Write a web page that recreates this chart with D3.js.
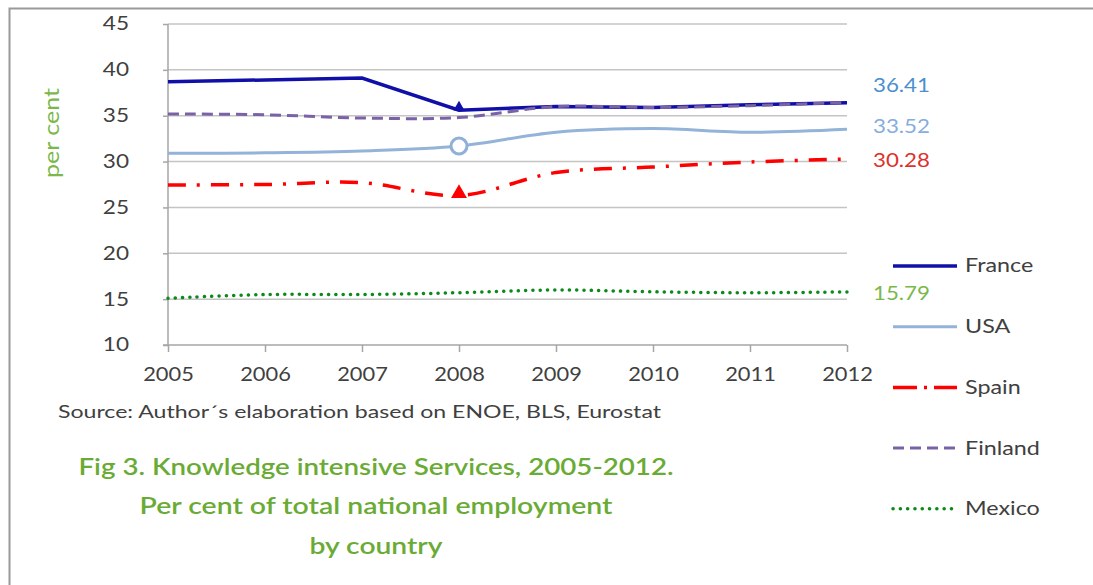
<!DOCTYPE html>
<html><head><meta charset="utf-8">
<script src="https://cdn.jsdelivr.net/npm/d3@7"></script>
<style>body{margin:0;background:#fff;} svg{display:block;font-family:Lato,"Open Sans",sans-serif;}</style>
</head><body>
<svg id="c" width="1093" height="585"></svg>
<script>
const years = [2005, 2006, 2007, 2008, 2009, 2010, 2011, 2012];
const france = [38.7, 38.9, 39.1, 35.6, 36.0, 35.9, 36.2, 36.41];
const usa = [30.9, 30.95, 31.15, 31.7, 33.2, 33.6, 33.2, 33.52];
const spain = [27.45, 27.5, 27.7, 26.3, 28.8, 29.4, 29.95, 30.28];
const finland = [35.2, 35.1, 34.75, 34.8, 36.0, 35.9, 36.1, 36.45];
const mexico = [15.1, 15.5, 15.5, 15.7, 16.0, 15.8, 15.7, 15.79];
const yTicks = [10, 15, 20, 25, 30, 35, 40, 45];
const seriesNames = ["France", "USA", "Spain", "Finland", "Mexico"];
const endLabels = ["36.41", "33.52", "30.28", "15.79"];

const svg = d3.select("#c");
function stretch(sel, k) {
  sel.each(function(){
    const L = this.getComputedTextLength();
    d3.select(this).attr("textLength", L*k).attr("lengthAdjust","spacingAndGlyphs");
  });
}
function fitTo(sel, w) {
  sel.attr("textLength", w).attr("lengthAdjust","spacingAndGlyphs");
}

// frame
svg.append("path").attr("d","M9.5,585 V8.5 H1093").attr("fill","none").attr("stroke","#9a9a9a").attr("stroke-width",2);

const x = d3.scalePoint().domain(years).range([168, 847]);
const y = d3.scaleLinear().domain([10, 45]).range([345, 24]);

// gridlines
svg.append("g").selectAll("line").data(yTicks.filter(d=>d>10)).join("line")
  .attr("x1",168).attr("x2",847).attr("y1",d=>y(d)).attr("y2",d=>y(d))
  .attr("stroke","#c4c4c4").attr("stroke-width",1.5);

// y axis
const ya = svg.append("g").attr("transform","translate(168,0)")
  .call(d3.axisLeft(y).tickValues(yTicks).tickSize(5).tickPadding(34));
ya.selectAll("path,line").attr("stroke","#a6a6a6").attr("stroke-width",1.5);
ya.select(".domain").attr("d","M0,"+y(45)+"V"+y(10));
ya.selectAll("text").attr("font-size",18.5).attr("fill","#404040").attr("font-family","Lato,'Open Sans',sans-serif");
stretch(ya.selectAll("text"), 1.22);

// x axis
const xa = svg.append("g").attr("transform","translate(0,345)")
  .call(d3.axisBottom(x).tickSize(7).tickPadding(16).tickFormat(d3.format("d")));
xa.selectAll("path,line").attr("stroke","#a6a6a6").attr("stroke-width",1.5);
xa.select(".domain").attr("d","M163,0H847");
xa.selectAll("text").attr("font-size",18.5).attr("fill","#404040").attr("font-family","Lato,'Open Sans',sans-serif");
stretch(xa.selectAll("text"), 1.18);

const styles = {
  France: {c:"#1010a8", w:3.5, dash:null, curve:d3.curveLinear, cap:"butt"},
  USA: {c:"#93b3d9", w:3, dash:null, curve:d3.curveCatmullRom, cap:"butt"},
  Spain: {c:"#ff0000", w:3.5, dash:"18,11,3,11", curve:d3.curveCatmullRom, cap:"butt"},
  Finland: {c:"#7a62a6", w:3, dash:"11,6", curve:d3.curveCatmullRom, cap:"butt"},
  Mexico: {c:"#0a8a1a", w:3.5, dash:"0.1,7.2", curve:d3.curveCatmullRom, cap:"round"}
};
const dataMap = {France:france, USA:usa, Spain:spain, Finland:finland, Mexico:mexico};
const drawOrder = ["Mexico","Spain","USA","France","Finland"];
drawOrder.forEach(n=>{
  const s = styles[n];
  const line = d3.line().x((d,i)=>x(years[i])).y(d=>y(d)).curve(s.curve);
  svg.append("path").datum(dataMap[n]).attr("d",line).attr("fill","none")
    .attr("stroke",s.c).attr("stroke-width",s.w).attr("stroke-dasharray",s.dash).attr("stroke-linecap",s.cap);
});

// markers at 2008
const i08 = years.indexOf(2008);
svg.append("circle").attr("cx",x(2008)).attr("cy",y(usa[i08])).attr("r",8)
  .attr("fill","#fff").attr("stroke","#8fb0d8").attr("stroke-width",3);
svg.append("path").attr("transform",`translate(${x(2008)},${y(spain[i08])-2})`)
  .attr("d",d3.symbol(d3.symbolTriangle,110)()).attr("fill","#ff0000");
svg.append("path").attr("transform",`translate(${x(2008)},${y(france[i08])-3})`)
  .attr("d",d3.symbol(d3.symbolTriangle,55)()).attr("fill","#1010a8");

// end labels
const endVals = [france[7], usa[7], spain[7], mexico[7]];
const endCols = ["#4a8fd0","#86ade0","#e0302b","#7bb84a"];
const endDy = [-17, -3, 1, 1];
endLabels.forEach((t,i)=>{
  const tx = svg.append("text").attr("x",873).attr("y",y(endVals[i])+endDy[i]).attr("dy","0.35em")
    .attr("font-size",19).attr("fill",endCols[i]).text(t);
  fitTo(tx, 57);
});

// y axis title
const yt = svg.append("text").attr("transform","translate(52,133) rotate(-90)").attr("text-anchor","middle")
  .attr("dy","0.35em").attr("font-size",21).attr("fill","#7bb84a").text("per cent");
fitTo(yt, 90);

// legend
const lg = svg.append("g");
seriesNames.forEach((n,i)=>{
  const s = styles[n];
  const yy = 266 + i*60.7;
  lg.append("line").attr("x1",893).attr("x2",957).attr("y1",yy).attr("y2",yy)
    .attr("stroke",s.c).attr("stroke-width",s.w).attr("stroke-linecap",s.cap)
    .attr("stroke-dasharray", n==="Spain" ? "24,7,3,7,30" : s.dash);
  const t = lg.append("text").attr("x",965).attr("y",yy).attr("dy","0.35em").attr("font-size",18.5)
    .attr("fill","#404040").text(n);
  stretch(t, 1.26);
});

// source
const src = svg.append("text").attr("x",58).attr("y",412).attr("dy","0.35em").attr("font-size",18)
  .attr("fill","#404040").text("Source: Author´s elaboration based on ENOE, BLS, Eurostat");
fitTo(src, 603);

// title
const titleLines = ["Fig 3. Knowledge intensive Services, 2005-2012.","Per cent of total national employment","by country"];
const titleW = [595, 473, 133];
titleLines.forEach((t,i)=>{
  const tt = svg.append("text").attr("x",376).attr("y",467+i*39.5).attr("dy","0.35em").attr("text-anchor","middle")
    .attr("font-size",22.5).attr("font-weight",600).attr("fill","#6aab35").text(t);
  fitTo(tt, titleW[i]);
});
</script>
</body></html>
